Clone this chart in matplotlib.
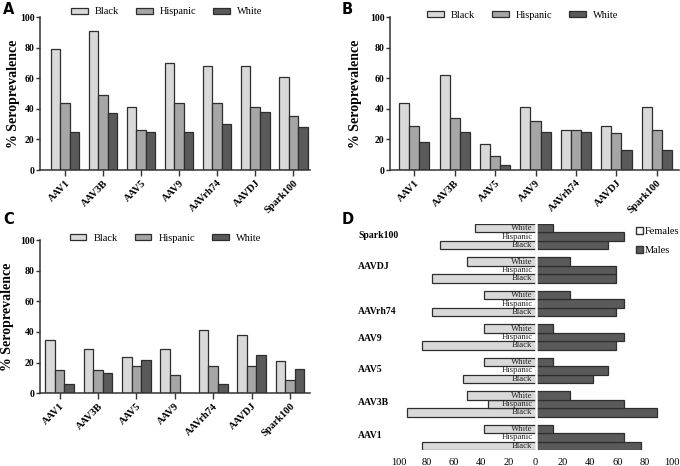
import matplotlib
matplotlib.use("Agg")
import matplotlib.pyplot as plt
from matplotlib.patches import Patch
import numpy as np

plt.rcParams['font.family'] = ['Liberation Serif', 'DejaVu Serif']

categories = ['AAV1', 'AAV3B', 'AAV5', 'AAV9', 'AAVrh74', 'AAVDJ', 'Spark100']
groups = ['Black', 'Hispanic', 'White']

A_black = [79, 91, 41, 70, 68, 68, 61]
A_hisp = [44, 49, 26, 44, 44, 41, 35]
A_white = [25, 37, 25, 25, 30, 38, 28]

B_black = [44, 62, 17, 41, 26, 29, 41]
B_hisp = [29, 34, 9, 32, 26, 24, 26]
B_white = [18, 25, 3, 25, 25, 13, 13]

C_black = [35, 29, 24, 29, 41, 38, 21]
C_hisp = [15, 15, 18, 12, 18, 18, 9]
C_white = [6, 13, 22, 0, 6, 25, 16]

fem_black = [83, 94, 53, 83, 76, 76, 70]
fem_hisp = [0, 35, 0, 0, 0, 0, 0]
fem_white = [37.5, 50, 37.5, 37.5, 37.5, 50, 44]
male_black = [77, 89, 42, 59, 59, 59, 53]
male_hisp = [65, 65, 53, 65, 65, 59, 65]
male_white = [12.5, 25, 12.5, 12.5, 25, 25, 12.5]

colors = ['#d9d9d9', '#a6a6a6', '#5a5a5a']
edge = '#2e2e2e'

W, H = 680, 466
fig = plt.figure(figsize=(6.8, 4.66), dpi=100)


def px_rect(x0, y0, x1, y1):
    return [x0 / W, 1 - y1 / H, (x1 - x0) / W, (y1 - y0) / H]


def bar_panel(box, series, xlim, letter, letter_xy, leg_anchor, ylab_x):
    ax = fig.add_axes(px_rect(*box))
    x = np.arange(len(categories))
    w = 0.25
    for k, (vals, c) in enumerate(zip(series, colors)):
        ax.bar(x + (k - 1) * w, vals, width=w, color=c, edgecolor=edge,
               linewidth=0.9, label=groups[k])
    ax.set_xlim(*xlim)
    ax.set_ylim(0, 100)
    ax.set_yticks([0, 20, 40, 60, 80, 100])
    ax.set_xticks(x)
    ax.set_xticklabels(categories, rotation=45, ha='right', va='top',
                       rotation_mode='anchor', fontweight='bold', fontsize=7.5)
    for lab in ax.get_yticklabels():
        lab.set_fontweight('bold')
        lab.set_fontsize(7)
    for s in ['top', 'right']:
        ax.spines[s].set_visible(False)
    for s in ['left', 'bottom']:
        ax.spines[s].set_color('#333333')
        ax.spines[s].set_linewidth(1.1)
    ax.tick_params(axis='y', direction='out', length=3, width=1,
                   color='#333333', pad=1)
    ax.tick_params(axis='x', direction='out', length=4, width=1,
                   color='#333333', pad=2)
    ymid = (box[1] + box[3]) / 2
    fig.text(ylab_x / W, 1 - ymid / H, '% Seroprevalence', rotation=90,
             ha='center', va='center', fontsize=10, fontweight='bold')
    leg = ax.legend(loc='center', bbox_to_anchor=leg_anchor, ncol=3,
                    frameon=False, fontsize=7.5, handlelength=1.6,
                    handleheight=0.55, handletextpad=0.7,
                    columnspacing=1.6, borderaxespad=0)
    for h in leg.legend_handles:
        h.set_linewidth(0.9)
    fig.text(letter_xy[0] / W, 1 - letter_xy[1] / H, letter, fontsize=10.5,
             fontweight='bold', family='DejaVu Sans', ha='left', va='center')
    return ax


bar_panel((40, 17, 310, 170), [A_black, A_hisp, A_white], (-0.66, 6.44),
          'A', (3, 10), (0.47, 1.033), 13.5)
bar_panel((390, 17, 679, 170), [B_black, B_hisp, B_white], (-0.6, 6.55),
          'B', (342, 10), (0.46, 1.011), 356)
bar_panel((40, 240, 310, 393.3), [C_black, C_hisp, C_white], (-0.51, 6.52),
          'C', (3, 219), (0.465, 1.013), 8)

# Panel D
axd = fig.add_axes(px_rect(399, 224, 672, 450))
fem = [fem_black, fem_hisp, fem_white]
male = [male_black, male_hisp, male_white]
for g in range(len(categories)):
    for k in range(3):
        y = 4 * g + k
        axd.barh(y, -fem[k][g], height=1.0, color=colors[0],
                 edgecolor=edge, linewidth=0.9)
        axd.barh(y, male[k][g], height=1.0, color=colors[2],
                 edgecolor=edge, linewidth=0.9)
        axd.text(-2.2, y, groups[k], ha='right', va='center',
                 fontsize=6.3, color='#222222', zorder=5)
axd.axvline(0, color='white', linewidth=1.8, zorder=4)
axd.set_xlim(-100, 100)
axd.set_ylim(-0.5, 26.5)
ticks = [-100, -80, -60, -40, -20, 0, 20, 40, 60, 80, 100]
axd.set_xticks(ticks)
axd.set_xticklabels([str(abs(t)) for t in ticks], fontsize=7.5)
axd.tick_params(axis='x', length=0, pad=6)
axd.set_yticks([])
for s in axd.spines.values():
    s.set_visible(False)
label_offsets = [0.2, 0.2, 0.1, -0.2, -0.9, 0.4, 0.1]
for g, name in enumerate(categories):
    axd.text(-130, 4 * g + 1 + label_offsets[g], name, ha='left',
             va='center', fontsize=7, fontweight='bold', clip_on=False)
axd.legend(handles=[Patch(facecolor='white', edgecolor='#333333',
                          label='Females'),
                    Patch(facecolor=colors[2], edgecolor='#333333',
                          label='Males')],
           loc='upper left', bbox_to_anchor=(636 / W, 1 - 227 / H),
           bbox_transform=fig.transFigure, frameon=False, fontsize=7.5,
           handlelength=0.7, handleheight=0.7, handletextpad=0.15,
           labelspacing=0.9, borderaxespad=0, borderpad=0)
fig.text(342 / W, 1 - 220 / H, 'D', fontsize=10.5, fontweight='bold',
         family='DejaVu Sans', ha='left', va='center')

fig.savefig('out.png', dpi=100)
